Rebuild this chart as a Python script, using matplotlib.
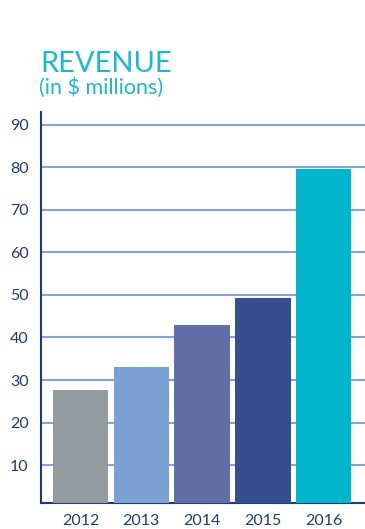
import numpy as np
import matplotlib.pyplot as plt

years = ["2012", "2013", "2014", "2015", "2016"]
revenue = [27.7, 33.1, 42.9, 49.3, 79.6]
colors = ["#939ba1", "#7ba0d3", "#626ea6", "#374e8c", "#00b5cc"]
yticks = [10, 20, 30, 40, 50, 60, 70, 80, 90]

navy = "#1f3a7a"
teal = "#1bb8cf"

plt.rcParams["font.family"] = ["Lato", "DejaVu Sans"]

fig = plt.figure(figsize=(3.65, 5.29), dpi=100)
ax = fig.add_axes([41 / 365, (529 - 503) / 529, (365 - 41) / 365, (503 - 112) / 529])

x = np.arange(len(years))
ax.bar(x, revenue, width=0.91, color=colors, zorder=3)

ax.set_xlim(-0.65, 4.68)
ax.set_ylim(1.1, 93)
ax.set_yticks(yticks)
ax.set_xticks(x)
ax.set_xticklabels(years)
ax.yaxis.grid(True, color="#85a3d8", linewidth=1.5, zorder=0)
ax.tick_params(axis="both", length=0, colors=navy, labelsize=11.5)
ax.tick_params(axis="y", pad=9)
ax.tick_params(axis="x", pad=8)

for s in ["top", "right"]:
    ax.spines[s].set_visible(False)
for s in ["left", "bottom"]:
    ax.spines[s].set_color(navy)
    ax.spines[s].set_linewidth(1.5)

fig.text(40 / 365, 1 - 72 / 529, "REVENUE", color=teal, fontsize=21, ha="left", va="baseline")
fig.text(39 / 365, 1 - 94 / 529, "(in $ millions)", color=teal, fontsize=15.5, ha="left", va="baseline")

fig.savefig("out.png", dpi=100)
